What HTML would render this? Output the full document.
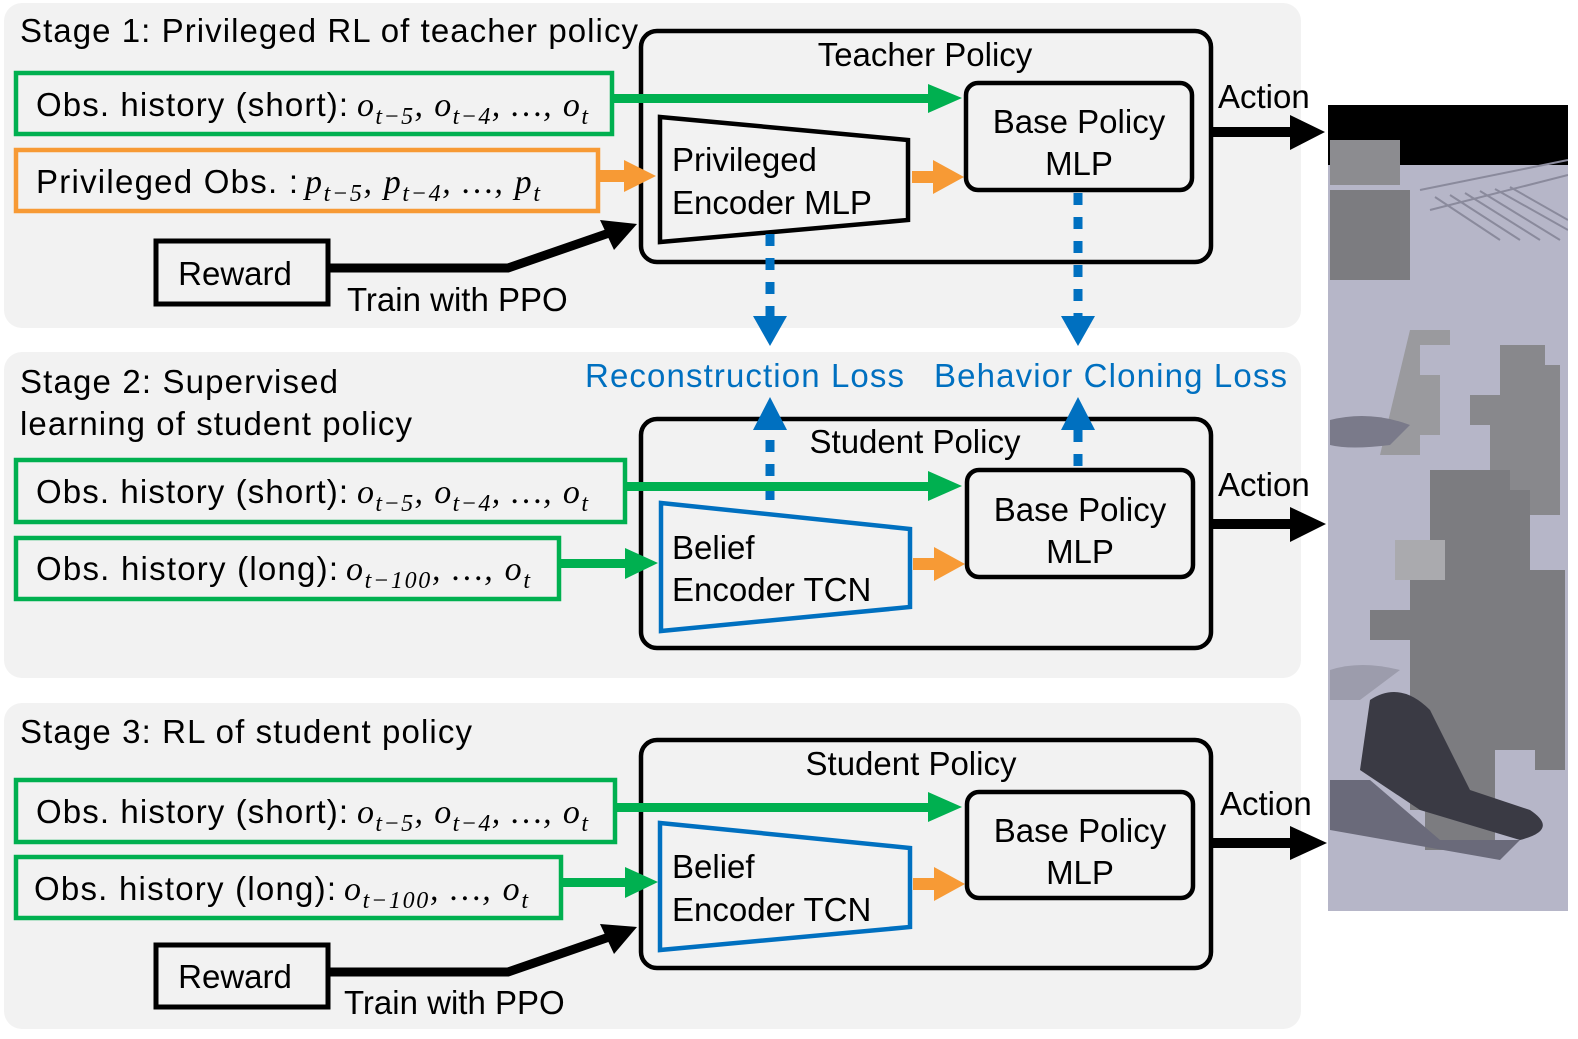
<!DOCTYPE html>
<html><head><meta charset="utf-8"><style>
html,body{margin:0;padding:0;background:#fff;overflow:hidden;width:1578px;height:1039px;}
svg{display:block;}
text{font-family:"Liberation Sans",sans-serif;}
.t{font-size:33px;fill:#000;}
.m{font-family:"Liberation Serif",serif;font-style:italic;font-size:34px;}
.s{font-size:24px;}
</style></head><body>
<svg width="1578" height="1039" viewBox="0 0 1578 1039" xmlns="http://www.w3.org/2000/svg">
<defs>
<clipPath id="img"><rect x="1328" y="105" width="240" height="806"/></clipPath>
</defs>
<rect x="4" y="3" width="1297" height="325" rx="18" fill="#f2f2f2"/>
<rect x="4" y="352" width="1297" height="326" rx="18" fill="#f2f2f2"/>
<rect x="4" y="703" width="1297" height="326" rx="18" fill="#f2f2f2"/>

<g clip-path="url(#img)">
<rect x="1328" y="105" width="240" height="806" fill="#b6b6c8"/>
<rect x="1328" y="105" width="240" height="60" fill="#000"/>
<g stroke="#8a8a9c" stroke-width="2">
<line x1="1420" y1="190" x2="1568" y2="160"/><line x1="1430" y1="210" x2="1568" y2="175"/>
<line x1="1450" y1="195" x2="1520" y2="240"/><line x1="1465" y1="193" x2="1540" y2="240"/>
<line x1="1480" y1="191" x2="1560" y2="240"/><line x1="1495" y1="189" x2="1568" y2="230"/>
<line x1="1510" y1="187" x2="1568" y2="220"/><line x1="1435" y1="197" x2="1500" y2="240"/>
</g>
<rect x="1330" y="140" width="70" height="45" fill="#8c8c90"/>
<rect x="1330" y="190" width="80" height="90" fill="#7c7c80"/>
<path d="M1410,330 h40 v15 h-30 v30 h20 v60 h-20 v20 h-40 z" fill="#9a9a9e"/>
<path d="M1500,345 h45 v20 h15 v150 h-30 v30 h-40 v-120 h-20 v-30 h30 z" fill="#88888c"/>
<path d="M1330,420 q40,-10 80,5 l-20,20 q-40,5 -60,0 z" fill="#7a7a8a"/>
<path d="M1430,470 h80 v20 h20 v80 h35 v200 h-30 v-20 h-40 v100 h-70 v-40 h-15 v-170 h-40 v-30 h40 v-50 h20 z" fill="#7c7c80"/>
<path d="M1395,540 h50 v40 h-50 z" fill="#aaaaae"/>
<path d="M1370,700 q30,-20 60,10 l40,80 l60,20 q30,20 -10,30 l-100,-30 l-60,-40 z" fill="#3a3a44"/>
<path d="M1330,780 l40,0 l70,60 l80,0 l-20,20 l-170,-30 z" fill="#6a6a7a"/>
<path d="M1330,670 q30,-10 70,0 l-40,30 h-30 z" fill="#9c9cac"/>
</g>

<!-- STAGE 1 -->
<text x="20" y="42" class="t" textLength="618">Stage 1: Privileged RL of teacher policy</text>
<rect x="641" y="31" width="570" height="231" rx="16" fill="none" stroke="#000" stroke-width="4.5"/>
<text x="925" y="66" class="t" text-anchor="middle">Teacher Policy</text>
<rect x="16" y="73" width="596" height="61" fill="none" stroke="#00b050" stroke-width="4.5"/>
<text x="36" y="116" class="t" textLength="312">Obs. history (short):</text>
<text x="357" y="116" class="m" textLength="231">o<tspan class="s" dy="8">t−5</tspan><tspan dy="-8">, o</tspan><tspan class="s" dy="8">t−4</tspan><tspan dy="-8">, …, o</tspan><tspan class="s" dy="8">t</tspan></text>
<rect x="16" y="150" width="582" height="61" fill="none" stroke="#f79a35" stroke-width="4.5"/>
<text x="36" y="193" class="t" textLength="262">Privileged Obs. :</text>
<text x="305" y="193" class="m" textLength="235">p<tspan class="s" dy="8">t−5</tspan><tspan dy="-8">, p</tspan><tspan class="s" dy="8">t−4</tspan><tspan dy="-8">, …, p</tspan><tspan class="s" dy="8">t</tspan></text>
<rect x="156" y="241" width="172" height="63" fill="none" stroke="#000" stroke-width="5"/>
<text x="235" y="285" class="t" text-anchor="middle">Reward</text>
<text x="347" y="311" class="t">Train with PPO</text>
<polyline points="328,268 508,268 612,232" fill="none" stroke="#000" stroke-width="9"/>
<polygon points="637,224 600,220 614,250" fill="#000"/>
<rect x="612" y="94" width="320" height="9" fill="#00b050"/>
<polygon points="928,84 962,98 928,113" fill="#00b050"/>
<rect x="598" y="170" width="30" height="12" fill="#f79a35"/>
<polygon points="624,160 656,176 624,192" fill="#f79a35"/>
<polygon points="660,117 908,140 908,220 660,242" fill="none" stroke="#000" stroke-width="4.5"/>
<text x="672" y="171" class="t">Privileged</text>
<text x="672" y="214" class="t">Encoder MLP</text>
<rect x="912" y="171" width="25" height="12" fill="#f79a35"/>
<polygon points="933,160 964,177 933,194" fill="#f79a35"/>
<rect x="966" y="83" width="226" height="107" rx="12" fill="none" stroke="#000" stroke-width="4.5"/>
<text x="1079" y="133" class="t" text-anchor="middle">Base Policy</text>
<text x="1079" y="175" class="t" text-anchor="middle">MLP</text>
<rect x="1211" y="127" width="84" height="10" fill="#000"/>
<polygon points="1290,115 1325,132 1290,150" fill="#000"/>
<text x="1218" y="108" class="t">Action</text>
<line x1="770" y1="234" x2="770" y2="318" stroke="#0070c0" stroke-width="9" stroke-dasharray="12,12"/>
<polygon points="753,316 787,316 770,346" fill="#0070c0"/>
<line x1="1078" y1="193" x2="1078" y2="318" stroke="#0070c0" stroke-width="9" stroke-dasharray="12,12"/>
<polygon points="1061,316 1095,316 1078,346" fill="#0070c0"/>

<!-- STAGE 2 -->
<text x="20" y="393" class="t" textLength="318">Stage 2: Supervised</text>
<text x="20" y="435" class="t" textLength="392">learning of student policy</text>
<text x="585" y="387" class="t" style="fill:#0070c0" textLength="319">Reconstruction Loss</text>
<text x="934" y="387" class="t" style="fill:#0070c0" textLength="353">Behavior Cloning Loss</text>
<rect x="641" y="419" width="570" height="229" rx="16" fill="none" stroke="#000" stroke-width="4.5"/>
<text x="915" y="453" class="t" text-anchor="middle">Student Policy</text>
<line x1="770" y1="500" x2="770" y2="428" stroke="#0070c0" stroke-width="9" stroke-dasharray="12,12"/>
<polygon points="753,430 787,430 770,397" fill="#0070c0"/>
<line x1="1078" y1="466" x2="1078" y2="428" stroke="#0070c0" stroke-width="9" stroke-dasharray="12,12"/>
<polygon points="1061,430 1095,430 1078,397" fill="#0070c0"/>
<rect x="16" y="460" width="609" height="62" fill="none" stroke="#00b050" stroke-width="4.5"/>
<text x="36" y="503" class="t" textLength="312">Obs. history (short):</text>
<text x="357" y="503" class="m" textLength="231">o<tspan class="s" dy="8">t−5</tspan><tspan dy="-8">, o</tspan><tspan class="s" dy="8">t−4</tspan><tspan dy="-8">, …, o</tspan><tspan class="s" dy="8">t</tspan></text>
<rect x="16" y="538" width="543" height="61" fill="none" stroke="#00b050" stroke-width="4.5"/>
<text x="36" y="580" class="t" textLength="302">Obs. history (long):</text>
<text x="346" y="580" class="m" textLength="184">o<tspan class="s" dy="8">t−100</tspan><tspan dy="-8">, …, o</tspan><tspan class="s" dy="8">t</tspan></text>
<rect x="625" y="482" width="307" height="9" fill="#00b050"/>
<polygon points="928,471 962,486 928,501" fill="#00b050"/>
<rect x="559" y="559" width="70" height="9" fill="#00b050"/>
<polygon points="625,548 658,563 625,579" fill="#00b050"/>
<polygon points="661,503 910,529 910,607 661,631" fill="none" stroke="#0070c0" stroke-width="4.5"/>
<text x="672" y="559" class="t">Belief</text>
<text x="672" y="601" class="t">Encoder TCN</text>
<rect x="913" y="558" width="25" height="12" fill="#f79a35"/>
<polygon points="934,547 965,564 934,581" fill="#f79a35"/>
<rect x="967" y="470" width="226" height="107" rx="12" fill="none" stroke="#000" stroke-width="4.5"/>
<text x="1080" y="521" class="t" text-anchor="middle">Base Policy</text>
<text x="1080" y="563" class="t" text-anchor="middle">MLP</text>
<rect x="1211" y="519" width="84" height="10" fill="#000"/>
<polygon points="1290,507 1326,524 1290,542" fill="#000"/>
<text x="1218" y="496" class="t">Action</text>

<!-- STAGE 3 -->
<text x="20" y="743" class="t" textLength="452">Stage 3: RL of student policy</text>
<rect x="641" y="740" width="570" height="228" rx="16" fill="none" stroke="#000" stroke-width="4.5"/>
<text x="911" y="775" class="t" text-anchor="middle">Student Policy</text>
<rect x="16" y="780" width="599" height="62" fill="none" stroke="#00b050" stroke-width="4.5"/>
<text x="36" y="823" class="t" textLength="312">Obs. history (short):</text>
<text x="357" y="823" class="m" textLength="231">o<tspan class="s" dy="8">t−5</tspan><tspan dy="-8">, o</tspan><tspan class="s" dy="8">t−4</tspan><tspan dy="-8">, …, o</tspan><tspan class="s" dy="8">t</tspan></text>
<rect x="16" y="857" width="545" height="61" fill="none" stroke="#00b050" stroke-width="4.5"/>
<text x="34" y="900" class="t" textLength="302">Obs. history (long):</text>
<text x="344" y="900" class="m" textLength="184">o<tspan class="s" dy="8">t−100</tspan><tspan dy="-8">, …, o</tspan><tspan class="s" dy="8">t</tspan></text>
<rect x="615" y="803" width="317" height="9" fill="#00b050"/>
<polygon points="928,792 962,807 928,822" fill="#00b050"/>
<rect x="561" y="878" width="68" height="9" fill="#00b050"/>
<polygon points="625,867 658,882 625,898" fill="#00b050"/>
<polygon points="660,823 910,848 910,927 660,950" fill="none" stroke="#0070c0" stroke-width="4.5"/>
<text x="672" y="878" class="t">Belief</text>
<text x="672" y="921" class="t">Encoder TCN</text>
<rect x="913" y="878" width="25" height="12" fill="#f79a35"/>
<polygon points="934,867 965,884 934,901" fill="#f79a35"/>
<rect x="967" y="792" width="226" height="106" rx="12" fill="none" stroke="#000" stroke-width="4.5"/>
<text x="1080" y="842" class="t" text-anchor="middle">Base Policy</text>
<text x="1080" y="884" class="t" text-anchor="middle">MLP</text>
<rect x="1211" y="838" width="84" height="10" fill="#000"/>
<polygon points="1290,826 1327,843 1290,860" fill="#000"/>
<text x="1220" y="815" class="t">Action</text>
<rect x="156" y="945" width="172" height="62" fill="none" stroke="#000" stroke-width="5"/>
<text x="235" y="988" class="t" text-anchor="middle">Reward</text>
<text x="344" y="1014" class="t">Train with PPO</text>
<polyline points="328,972 508,972 612,936" fill="none" stroke="#000" stroke-width="9"/>
<polygon points="637,927 600,924 614,954" fill="#000"/>
</svg>
</body></html>
